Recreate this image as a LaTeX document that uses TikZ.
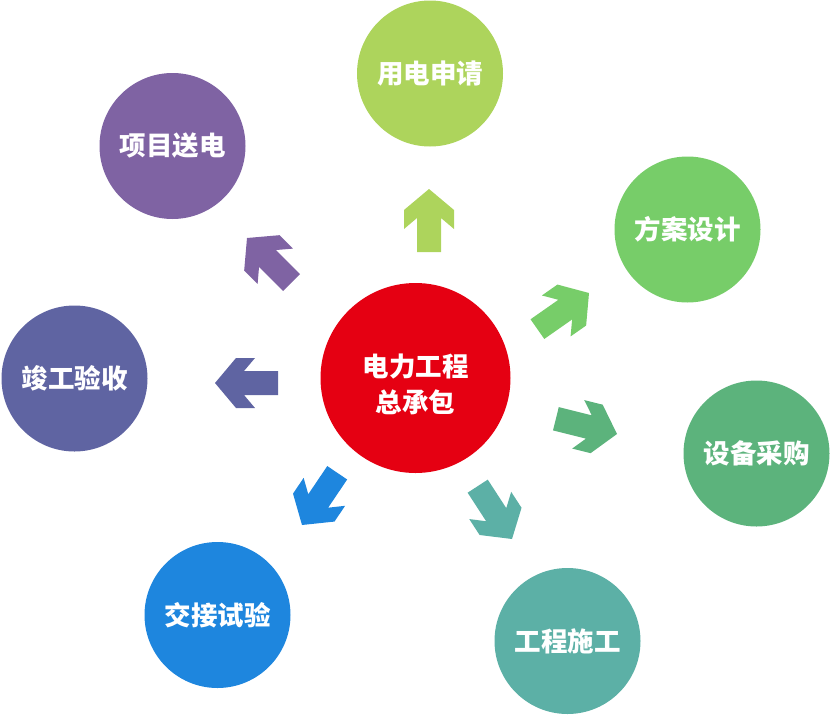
\documentclass[tikz,border=0pt]{standalone}
\usepackage{fontspec}
\newfontfamily\cjk{Noto Sans CJK SC}
\definecolor{cYellowGreen}{HTML}{ADD45C}
\definecolor{cPurple}{HTML}{7F63A3}
\definecolor{cGreen}{HTML}{77CD69}
\definecolor{cIndigo}{HTML}{5F64A2}
\definecolor{cSea}{HTML}{5CB37C}
\definecolor{cBlue}{HTML}{1E86DE}
\definecolor{cTeal}{HTML}{5CB0A6}
\definecolor{cRed}{HTML}{E50012}
\tikzset{
  bubble/.style={circle, minimum size=146pt, inner sep=0pt, text=white,
    font=\cjk\bfseries\fontsize{26.5pt}{30pt}\selectfont},
  hub/.style={circle, minimum size=190pt, inner sep=0pt},
  hubtext/.style={text=white, align=center, inner sep=0pt,
    font=\cjk\bfseries\fontsize{26.5pt}{36pt}\selectfont},
  blockarrow/.pic={
    \path[pic actions] (0,0) -- (-21,25) -- (-40,25) -- (-29,12) -- (-63,12)
      -- (-63,-12) -- (-29,-12) -- (-40,-25) -- (-21,-25) -- cycle;
  }
}
\begin{document}
\begin{tikzpicture}[x=1pt,y=-1pt]
\useasboundingbox (0,0) rectangle (830,715);
\node[hub, fill=cRed, label={[hubtext, yshift=-6pt]center:电力工程\\总承包}] (center) at (415.5,378) {};
\node[bubble, fill=cYellowGreen] (apply) at (430,73.5) {用电申请};
\node[bubble, fill=cGreen] (design) at (687.5,229.5) {方案设计};
\node[bubble, fill=cSea] (purchase) at (756.5,453.5) {设备采购};
\node[bubble, fill=cTeal] (build) at (567.5,641) {工程施工};
\node[bubble, fill=cBlue] (test) at (217.5,615) {交接试验};
\node[bubble, fill=cIndigo] (accept) at (74.5,378.5) {竣工验收};
\node[bubble, fill=cPurple] (deliver) at (172.5,146) {项目送电};
\pic[fill=cYellowGreen, rotate=90] at (429,189) {blockarrow};
\pic[fill=cGreen, rotate=35] at (589,293) {blockarrow};
\pic[fill=cSea, rotate=-14] at (617,434) {blockarrow};
\pic[fill=cTeal, rotate=-57] at (512,539) {blockarrow};
\pic[fill=cBlue, rotate=-124] at (302,525) {blockarrow};
\pic[fill=cIndigo, rotate=180] at (215,383) {blockarrow};
\pic[fill=cPurple, rotate=135] at (247,238) {blockarrow};
\end{tikzpicture}
\end{document}
